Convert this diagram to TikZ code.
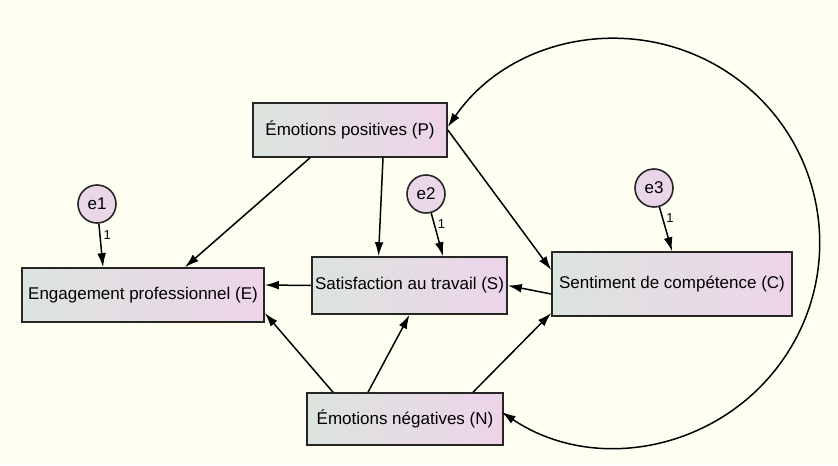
\documentclass[tikz,border=0pt]{standalone}
\usepackage{fontspec}
\setmainfont{Liberation Sans}
\usepackage{tikz}
\usetikzlibrary{arrows.meta}

\definecolor{fond}{RGB}{254,255,240}
\definecolor{vertgris}{RGB}{220,228,222}
\definecolor{rosepale}{RGB}{237,212,233}
\definecolor{roseerreur}{RGB}{233,215,233}

\begin{document}
\begin{tikzpicture}[x=0.5pt, y=-0.5pt,
          % Stile delle variabili osservate
          bloc/.style={
              draw=black!85,
              rectangle,
              left color=vertgris,
              right color=rosepale,
              minimum height=27pt,
              inner sep=0pt,
              line width=0.8pt,
              font=\fontsize{8.5}{10}\selectfont
          },
          % Stile dei termini di errore
          erreur/.style={
              draw=black!85,
              circle,
              fill=roseerreur,
              minimum size=19pt,
              inner sep=0pt,
              line width=0.8pt,
              font=\fontsize{8.5}{10}\selectfont
          },
          % Frecce con la punta piena
          fleche/.style={
              -{Latex[length=7pt, width=4.4pt]},
              line width=0.75pt
          },
          covariance/.style={
              {Latex[length=7pt, width=4.4pt]}-{Latex[length=7pt, width=4.4pt]},
              line width=0.75pt
          },
          poids/.style={
              font=\fontsize{6.5}{7}\selectfont,
              inner sep=1.5pt
          }
      ]

          % 0. Sfondo
          \useasboundingbox (0,0) rectangle (838,465);
          \fill [fond] (0,0) rectangle (838,465);

          % 1. Variabili
          \node [bloc, minimum width=97pt] (P) at (350,130) {Émotions positives (P)};
          \node [bloc, minimum width=121pt] (E) at (143,295) {Engagement professionnel (E)};
          \node [bloc, minimum width=97.5pt, minimum height=28.5pt] (S) at (409.5,285.5) {Satisfaction au travail (S)};
          \node [bloc, minimum width=120pt, minimum height=32pt] (C) at (672,284) {Sentiment de compétence (C)};
          \node [bloc, minimum width=98pt, minimum height=26pt] (N) at (405,419) {Émotions négatives (N)};

          % 2. Errori
          \node [erreur] (e1) at (97,204) {e1};
          \node [erreur] (e2) at (426,194) {e2};
          \node [erreur] (e3) at (654,188) {e3};

          \draw [fleche] (e1) -- node [poids, near start, right] {1} ([xshift=-20pt]E.north);
          \draw [fleche] (e2) -- node [poids, near start, right] {1} ([xshift=16.75pt]S.north);
          \draw [fleche] (e3) -- node [poids, near start, right] {1} (C.north);

          % 3. Effetti di P
          \draw [fleche] ([xshift=-20pt]P.south) -- ([xshift=21pt]E.north);
          \draw [fleche] ([xshift=16.5pt]P.south) -- ([xshift=-15.5pt]S.north);
          \draw [fleche] (P.east) -- ([yshift=7pt]C.west);

          % 4. Effetti di C e S
          \draw [fleche] ([yshift=-5pt]C.west) -- (S.east);
          \draw [fleche] (S.west) -- ([yshift=5pt]E.east);

          % 5. Effetti di N
          \draw [fleche] ([xshift=-36pt]N.north) -- ([yshift=-9pt]E.east);
          \draw [fleche] ([xshift=-18.5pt]N.north) -- (S.south);
          \draw [fleche] ([xshift=34pt]N.north) -- ([yshift=-14.5pt]C.west);

          % 6. Covarianza tra P e N
          \draw [covariance] ([yshift=1.5pt]P.east) arc [start angle=145.4, end angle=-124, radius=102pt];

      \end{tikzpicture}
\end{document}
